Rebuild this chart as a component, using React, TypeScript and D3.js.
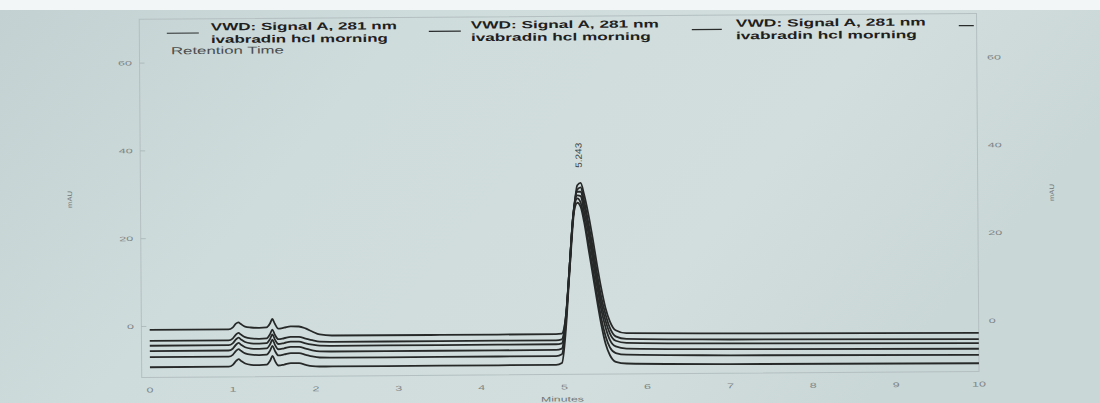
import React from "react";
import * as d3 from "d3";

// Retention time (minutes) sample points shared by all traces
const T = [0, 0.95, 1.0, 1.04, 1.07, 1.1, 1.15, 1.22, 1.32, 1.41, 1.45, 1.48, 1.51, 1.55, 1.62, 1.7, 1.8, 1.88, 1.96, 2.05, 2.2, 3.5, 4.9, 4.97, 5.02, 5.07, 5.12, 5.17, 5.21, 5.25, 5.3, 5.35, 5.4, 5.45, 5.5, 5.55, 5.62, 5.75, 7, 10];

// Six overlaid injections (mAU)
const traceA = [-0.8, -0.8, -0.4, 0.5, 0.8, 0.4, -0.2, -0.4, -0.5, -0.4, 0.4, 1.5, 0.4, -0.7, -0.5, -0.2, -0.25, -0.7, -1.4, -2.1, -2.35, -2.4, -2.4, -2.3, 1.5, 12, 24, 31.5, 32, 29.5, 25, 19.5, 13.5, 8, 3.5, 0.5, -1.6, -2.3, -2.5, -2.8];
const traceB = [-3.3, -3.3, -2.9, -2.0, -1.6, -2.0, -2.6, -2.9, -3.0, -2.9, -2.0, -0.9, -2.1, -3.1, -2.9, -2.6, -2.6, -3.0, -3.4, -3.75, -3.8, -3.8, -3.8, -3.6, 1.5, 13, 25, 30.5, 31, 28, 23, 17.5, 11.5, 6, 2, -1, -3, -3.6, -3.9, -4.2];
const traceC = [-4.4, -4.4, -4.0, -3.1, -2.7, -3.1, -3.7, -4.0, -4.1, -4.0, -3.1, -2.0, -3.2, -4.2, -4.0, -3.7, -3.7, -4.1, -4.4, -4.65, -4.7, -4.7, -4.7, -4.5, 1.0, 13, 25, 30, 30, 27, 22, 16, 10, 4.5, 0.5, -2.3, -4.0, -4.5, -4.8, -5.1];
const traceD = [-5.6, -5.6, -5.2, -4.3, -3.9, -4.3, -4.9, -5.2, -5.3, -5.2, -4.3, -3.2, -4.4, -5.4, -5.2, -4.9, -4.9, -5.3, -5.7, -5.95, -6.0, -6.0, -6.0, -5.7, 0.5, 13, 25, 29.2, 29, 25.5, 20.5, 14.5, 8.5, 3, -1, -3.8, -5.3, -5.8, -6.1, -6.4];
const traceE = [-7.0, -7.0, -6.6, -5.7, -5.3, -5.7, -6.3, -6.6, -6.7, -6.6, -5.7, -4.6, -5.8, -6.8, -6.6, -6.3, -6.3, -6.7, -7.1, -7.35, -7.4, -7.4, -7.4, -7.0, 0.0, 13, 25, 28.5, 27.5, 24, 18.5, 12.5, 6.5, 1, -3, -5.5, -6.8, -7.2, -7.5, -7.8];
const traceF = [-9.3, -9.3, -8.9, -8.0, -7.6, -8.0, -8.6, -8.9, -9.0, -8.9, -8.0, -6.9, -8.1, -9.1, -8.9, -8.6, -8.6, -9.0, -9.3, -9.4, -9.4, -9.4, -9.4, -9.0, -1.5, 12, 24.5, 27.5, 26.5, 23, 17, 11, 5, -0.5, -4.8, -7.3, -8.8, -9.2, -9.5, -9.7];
const traces = [traceA, traceB, traceC, traceD, traceE, traceF];

const xTicks = [0, 1, 2, 3, 4, 5, 6, 7, 8, 9, 10];
const yTicks = [0, 20, 40, 60];
const peakLabel = { t: 5.243, v: 35, text: "5.243" };

const legendTitle = "VWD: Signal A, 281 nm";
const legendSample = "ivabradin hcl morning";

const FONT = "'Liberation Sans', Arial, sans-serif";

export default function App() {
  const x = d3.scaleLinear().domain([-0.1, 10]).range([140.5, 977.8]);
  const y = d3.scaleLinear().domain([-11.6, 70]).range([374.5, 16.3]);
  const line = d3
    .line<number>()
    .x((_, i) => x(T[i]))
    .y((d) => y(d))
    .curve(d3.curveMonotoneX);

  const legends = [
    { lx0: 168, lx1: 200, tx: 212, w1: 186, w2: 177 },
    { lx0: 430, lx1: 462, tx: 472, w1: 188, w2: 180 },
    { lx0: 693, lx1: 723, tx: 737, w1: 190, w2: 181 },
  ];

  return (
    <svg
      width={1100}
      height={403}
      style={{ position: "absolute", left: 0, top: 0, display: "block" }}
      fontFamily={FONT}
    >
      <defs>
        <linearGradient id="paper" x1="0" y1="0" x2="1" y2="0.3">
          <stop offset="0" stopColor="#c4d1d2" />
          <stop offset="0.35" stopColor="#cfdcdc" />
          <stop offset="0.75" stopColor="#d2dedd" />
          <stop offset="1" stopColor="#cad7d7" />
        </linearGradient>
      </defs>
      <rect x={0} y={0} width={1100} height={403} fill="#f3f6f6" />
      <rect x={0} y={10} width={1100} height={393} fill="url(#paper)" />

      <g transform="rotate(-0.4 560 200)">
        {/* frame */}
        <rect
          x={x(-0.1)}
          y={y(70)}
          width={x(10) - x(-0.1)}
          height={y(-11.6) - y(70)}
          fill="none"
          stroke="#b3bfc0"
          strokeWidth={1}
        />

        {/* y tick labels left and right */}
        {yTicks.map((v) => (
          <g key={"y" + v}>
            <line x1={x(-0.1)} x2={x(-0.1) + 5} y1={y(v)} y2={y(v)} stroke="#a8b4b5" strokeWidth={0.8} />
            <text
              x={133}
              y={y(v) + 2.3}
              fontSize={6.5}
              fill="#7d8586"
              textAnchor="end"
              textLength={String(v).length * 7}
              lengthAdjust="spacingAndGlyphs"
            >
              {v}
            </text>
            <text
              x={988}
              y={y(v) + 2.3}
              fontSize={6.5}
              fill="#7d8586"
              textAnchor="start"
              textLength={String(v).length * 7}
              lengthAdjust="spacingAndGlyphs"
            >
              {v}
            </text>
          </g>
        ))}

        {/* x tick labels */}
        {xTicks.map((t) => (
          <text
            key={"x" + t}
            x={x(t)}
            y={389.5}
            fontSize={7}
            fill="#7d8586"
            textAnchor="middle"
            textLength={String(t).length * 7}
            lengthAdjust="spacingAndGlyphs"
          >
            {t}
          </text>
        ))}
        <text x={561} y={401.5} fontSize={7} fill="#6f7778" textAnchor="middle" textLength={43} lengthAdjust="spacingAndGlyphs">
          Minutes
        </text>

        {/* mAU axis titles */}
        <text
          transform={`translate(72,196) rotate(-90)`}
          fontSize={6.5}
          fill="#6f7778"
          textAnchor="middle"
          textLength={17}
          lengthAdjust="spacingAndGlyphs"
        >
          mAU
        </text>
        <text
          transform={`translate(1054,196) rotate(-90)`}
          fontSize={6.5}
          fill="#6f7778"
          textAnchor="middle"
          textLength={17}
          lengthAdjust="spacingAndGlyphs"
        >
          mAU
        </text>

        {/* traces */}
        {traces.map((tr, i) => (
          <path
            key={"tr" + i}
            d={line(tr) || ""}
            fill="none"
            stroke="#272929"
            strokeWidth={1.8}
            strokeLinejoin="round"
          />
        ))}

        {/* peak label */}
        <text
          transform={`translate(${x(peakLabel.t) - 1.5},${y(peakLabel.v) - 2}) rotate(-90)`}
          fontSize={9}
          fill="#3a3d3d"
          textAnchor="start"
          textLength={25}
          lengthAdjust="spacingAndGlyphs"
        >
          {peakLabel.text}
        </text>

        {/* legend */}
        {legends.map((l, i) => (
          <g key={"lg" + i}>
            <line x1={l.lx0} x2={l.lx1} y1={30.5} y2={30.5} stroke="#2a2c2c" strokeWidth={1.2} />
            <text
              x={l.tx}
              y={28}
              fontSize={10.5}
              fontWeight="bold"
              fill="#1e2020"
              textLength={l.w1}
              lengthAdjust="spacingAndGlyphs"
            >
              {legendTitle}
            </text>
            <text
              x={l.tx}
              y={40.5}
              fontSize={10.5}
              fontWeight="bold"
              fill="#1e2020"
              textLength={l.w2}
              lengthAdjust="spacingAndGlyphs"
            >
              {legendSample}
            </text>
          </g>
        ))}
        <line x1={960} x2={975} y1={28.5} y2={28.5} stroke="#2a2c2c" strokeWidth={1.2} />
        <text x={172} y={51.5} fontSize={10} fill="#4a4e4e" textLength={113} lengthAdjust="spacingAndGlyphs">
          Retention Time
        </text>
      </g>
    </svg>
  );
}
